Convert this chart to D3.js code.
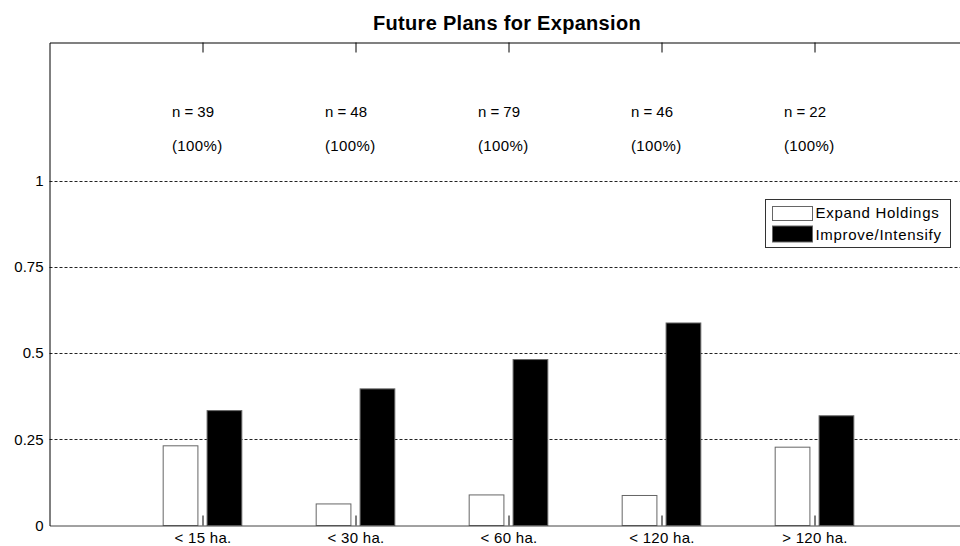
<!DOCTYPE html>
<html>
<head>
<meta charset="utf-8">
<script src="https://cdn.jsdelivr.net/npm/d3@7"></script>
<style>
  html, body { margin: 0; padding: 0; background: #fff; }
  svg { display: block; font-family: "Liberation Sans", Arial, sans-serif; }
</style>
</head>
<body>
<svg id="chart" width="960" height="546"></svg>
<script>
// ---- data ----
const categories = ["< 15 ha.", "< 30 ha.", "< 60 ha.", "< 120 ha.", "> 120 ha."];
const expandHoldings = [0.231, 0.0625, 0.0886, 0.087, 0.227];
const improveIntensify = [0.333, 0.396, 0.481, 0.587, 0.318];
const sampleSizes = [39, 48, 79, 46, 22];
const sampleShares = ["(100%)", "(100%)", "(100%)", "(100%)", "(100%)"];
const yTicks = [0, 0.25, 0.5, 0.75, 1];
const seriesNames = ["Expand Holdings", "Improve/Intensify"];
const chartTitle = "Future Plans for Expansion";

// ---- layout ----
const svg = d3.select("#chart");
const x = d3.scaleLinear().domain([0, categories.length + 1]).range([49.5, 967.5]);
const y = d3.scaleLinear().domain([0, 1.4]).range([525.5, 42.5]);

const barInner = 0.03, barOuter = 0.257;

// gridlines
svg.append("g").selectAll("line")
  .data(yTicks.filter(d => d > 0))
  .join("line")
  .attr("x1", x(0)).attr("x2", x(categories.length + 1))
  .attr("y1", d => Math.round(y(d)) + 0.5).attr("y2", d => Math.round(y(d)) + 0.5)
  .attr("stroke", "#222").attr("stroke-width", 1)
  .attr("stroke-dasharray", "3,2");

// bars
const idx = d3.range(categories.length);
svg.append("g").selectAll("rect")
  .data(idx)
  .join("rect")
  .attr("x", i => x(i + 1 - barOuter))
  .attr("width", i => x(i + 1 - barInner) - x(i + 1 - barOuter))
  .attr("y", i => y(expandHoldings[i]))
  .attr("height", i => y(0) - y(expandHoldings[i]))
  .attr("fill", "#fff").attr("stroke", "#666").attr("stroke-width", 1);

svg.append("g").selectAll("rect")
  .data(idx)
  .join("rect")
  .attr("x", i => x(i + 1 + barInner))
  .attr("width", i => x(i + 1 + barOuter) - x(i + 1 + barInner))
  .attr("y", i => y(improveIntensify[i]))
  .attr("height", i => y(0) - y(improveIntensify[i]))
  .attr("fill", "#000").attr("stroke", "#666").attr("stroke-width", 1);

// axes: bottom
const xAxisB = d3.axisBottom(x)
  .tickValues(d3.range(1, categories.length + 1))
  .tickFormat(d => categories[d - 1])
  .tickSizeInner(-10).tickSizeOuter(0).tickPadding(7);
const gB = svg.append("g").attr("transform", `translate(0,${y(0)})`).call(xAxisB);
gB.select(".domain").attr("stroke", "#444").attr("stroke-width", 1);
gB.selectAll(".tick line").attr("stroke", "#000");
gB.selectAll(".tick text").attr("font-size", 15).attr("fill", "#000")
  .attr("font-family", "Liberation Sans, Arial, sans-serif").attr("letter-spacing", 0.3);

// axes: top
const xAxisT = d3.axisTop(x)
  .tickValues(d3.range(1, categories.length + 1))
  .tickFormat("")
  .tickSizeInner(-10).tickSizeOuter(0);
const gT = svg.append("g").attr("transform", `translate(0,${y(1.4)})`).call(xAxisT);
gT.select(".domain").attr("stroke", "#808080").attr("stroke-width", 2);
gT.selectAll(".tick line").attr("stroke", "#000");

// axes: left
const yAxis = d3.axisLeft(y)
  .tickValues(yTicks)
  .tickFormat(d => d3.format("")(d))
  .tickSizeInner(0).tickSizeOuter(0).tickPadding(6);
const gL = svg.append("g").attr("transform", `translate(${x(0)},0)`).call(yAxis);
gL.select(".domain").attr("stroke", "#000").attr("stroke-width", 1);
gL.selectAll(".tick text").attr("font-size", 15).attr("fill", "#000")
  .attr("font-family", "Liberation Sans, Arial, sans-serif");

// annotations
svg.append("g").selectAll("text")
  .data(idx)
  .join("text")
  .attr("x", i => x(i + 1 - 0.2))
  .attr("y", y(1.2))
  .attr("dy", "0.35em")
  .attr("font-size", 15).attr("fill", "#000")
  .text(i => "n = " + sampleSizes[i]);

svg.append("g").selectAll("text")
  .data(idx)
  .join("text")
  .attr("x", i => x(i + 1 - 0.2))
  .attr("y", y(1.1))
  .attr("dy", "0.35em")
  .attr("font-size", 15).attr("fill", "#000").attr("letter-spacing", 0.4)
  .text(i => sampleShares[i]);

// title
svg.append("text")
  .attr("x", (x(0) + x(categories.length + 1)) / 2 - 1.5)
  .attr("y", 29.5)
  .attr("text-anchor", "middle")
  .attr("font-size", 20).attr("font-weight", "bold").attr("fill", "#000")
  .attr("letter-spacing", 0.3)
  .text(chartTitle);

// legend
const lg = svg.append("g").attr("transform", "translate(765.5,199.5)");
lg.append("rect").attr("width", 185).attr("height", 48)
  .attr("fill", "#fff").attr("stroke", "#333").attr("stroke-width", 1);
const legendFill = ["#fff", "#000"];
seriesNames.forEach((name, k) => {
  lg.append("rect")
    .attr("x", 7).attr("y", 7 + k * 19.5)
    .attr("width", 40).attr("height", 14 + k * 2)
    .attr("fill", legendFill[k]).attr("stroke", "#666");
  lg.append("text")
    .attr("x", 50).attr("y", 18.5 + k * 21.5)
    .attr("font-size", 15).attr("fill", "#000").attr("letter-spacing", 0.7)
    .text(name);
});
</script>
</body>
</html>
